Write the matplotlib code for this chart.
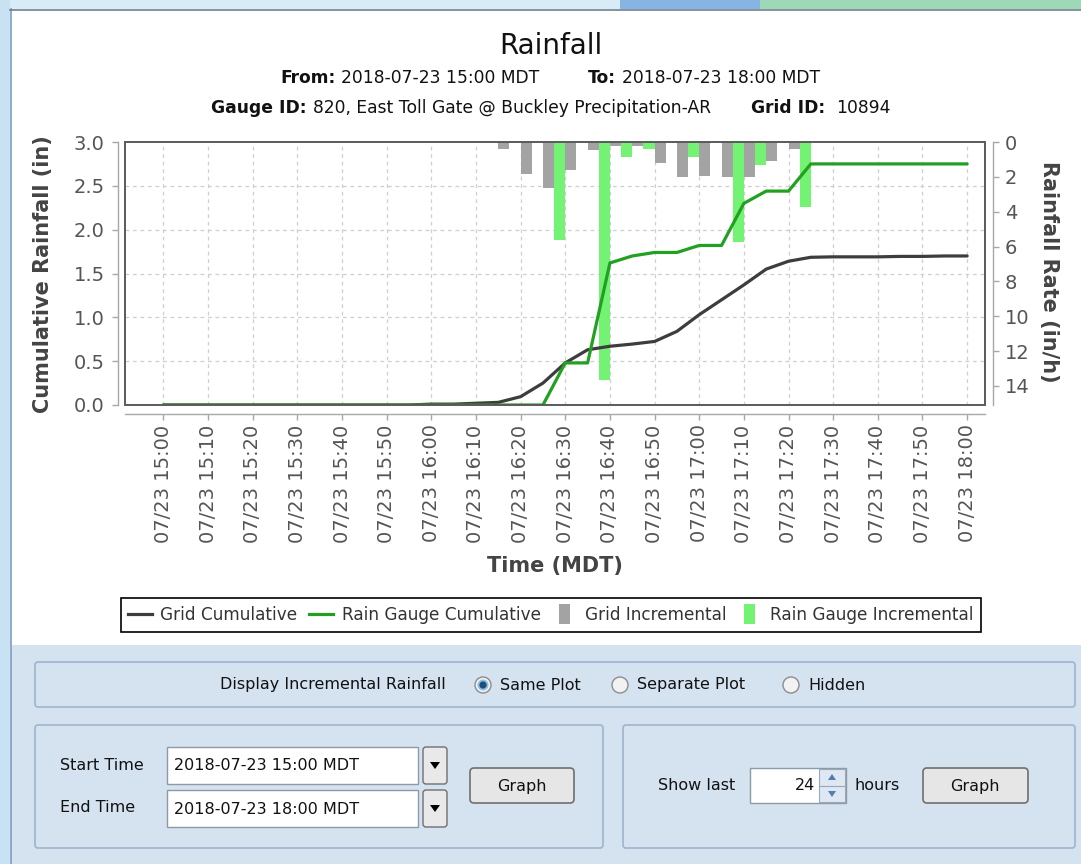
import matplotlib
matplotlib.use("Agg")
import matplotlib.pyplot as plt
import matplotlib.dates as mdates
from matplotlib.patches import Rectangle, FancyBboxPatch, Circle, Polygon
from matplotlib.lines import Line2D
from matplotlib.legend_handler import HandlerPatch
from matplotlib.ticker import FormatStrFormatter
import pandas as pd

# ---------------- data ----------------
chart_title = "Rainfall"
from_text = "2018-07-23 15:00 MDT"
to_text = "2018-07-23 18:00 MDT"
gauge_text = "820, East Toll Gate @ Buckley Precipitation-AR"
grid_id_text = "10894"

cum_times = pd.date_range("2018-07-23 15:00", "2018-07-23 18:00", freq="5min")
grid_cumulative = [0, 0, 0, 0, 0, 0, 0, 0, 0, 0, 0, 0,
                   0.01, 0.01, 0.02, 0.03, 0.095, 0.25, 0.48, 0.63, 0.67, 0.695,
                   0.725, 0.84, 1.03, 1.20, 1.37, 1.55, 1.64, 1.685, 1.69, 1.69,
                   1.69, 1.695, 1.695, 1.70, 1.70]
gauge_cumulative = [0, 0, 0, 0, 0, 0, 0, 0, 0, 0, 0, 0, 0, 0, 0, 0, 0, 0,
                    0.48, 0.48, 1.62, 1.70, 1.74, 1.74, 1.82, 1.82, 2.30, 2.44,
                    2.44, 2.75, 2.75, 2.75, 2.75, 2.75, 2.75, 2.75, 2.75]

grid_inc_times = ["16:15", "16:20", "16:25", "16:30", "16:35", "16:40", "16:45",
                  "16:50", "16:55", "17:00", "17:05", "17:10", "17:15", "17:20"]
grid_incremental = [0.40, 1.84, 2.65, 1.61, 0.46, 0.23, 0.23,
                    1.23, 2.03, 1.98, 2.03, 2.03, 1.11, 0.40]
gauge_inc_times = ["16:25", "16:35", "16:40", "16:45", "16:55", "17:05", "17:10", "17:20"]
gauge_incremental = [5.60, 13.65, 0.86, 0.40, 0.85, 5.72, 1.32, 3.73]

tick_times = pd.date_range("2018-07-23 15:00", "2018-07-23 18:00", freq="10min")
tick_labels = ["07/23 15:00", "07/23 15:10", "07/23 15:20", "07/23 15:30",
               "07/23 15:40", "07/23 15:50", "07/23 16:00", "07/23 16:10",
               "07/23 16:20", "07/23 16:30", "07/23 16:40", "07/23 16:50",
               "07/23 17:00", "07/23 17:10", "07/23 17:20", "07/23 17:30",
               "07/23 17:40", "07/23 17:50", "07/23 18:00"]
left_ticks = [0.0, 0.5, 1.0, 1.5, 2.0, 2.5, 3.0]
right_ticks = [0, 2, 4, 6, 8, 10, 12, 14]
legend_labels = ["Grid Cumulative", "Rain Gauge Cumulative",
                 "Grid Incremental", "Rain Gauge Incremental"]

# ---------------- figure ----------------
W, H = 1081, 864
fig = plt.figure(figsize=(W / 100, H / 100), dpi=100)
fig.patch.set_facecolor("white")

bg = fig.add_axes([0, 0, 1, 1])
bg.set_xlim(0, W)
bg.set_ylim(H, 0)
bg.axis("off")
bg.set_zorder(-5)


def px_rect(x0, y0, x1, y1):
    return [x0 / W, 1 - y1 / H, (x1 - x0) / W, (y1 - y0) / H]


# window chrome
bg.add_patch(Rectangle((0, 0), W, 9, fc="#d8ecf7", ec="none"))
bg.add_patch(Rectangle((620, 0), 140, 9, fc="#86b5e3", ec="none"))
bg.add_patch(Rectangle((760, 0), 330, 9, fc="#9fd8b6", ec="none"))
bg.add_patch(Rectangle((0, 0), 10, H, fc="#c8e1f3", ec="none"))
bg.add_line(Line2D([10.5, 10.5], [9, H], color="#7d9cc0", lw=1.2))
bg.add_line(Line2D([10, W], [9.5, 9.5], color="#6f7f90", lw=1.2))
bg.add_patch(Rectangle((11, 10), W, 635, fc="white", ec="none"))
# lower control panel
bg.add_patch(Rectangle((11, 645), W, H - 645, fc="#d5e2f0", ec="none"))

# ---------------- chart ----------------
MIN = 1.0 / 1440.0
cx = mdates.date2num(cum_times.to_pydatetime())
tx = mdates.date2num(tick_times.to_pydatetime())
gx = [mdates.date2num(pd.Timestamp("2018-07-23 " + s).to_pydatetime()) for s in grid_inc_times]
ux = [mdates.date2num(pd.Timestamp("2018-07-23 " + s).to_pydatetime()) for s in gauge_inc_times]

axL = fig.add_axes(px_rect(125, 142, 985, 405))
axR = axL.twinx()
axL.set_zorder(3)
axL.patch.set_visible(False)
axR.set_zorder(2)

grid_kw = dict(colors="#cfcfcf", linestyles=(0, (3, 3)), lw=0.9, zorder=0)
axR.vlines(tx, 0, 1, transform=axR.get_xaxis_transform(), **grid_kw)
axR.hlines(left_ticks[1:-1], 0, 1, transform=axL.get_yaxis_transform(), **grid_kw)

axR.bar(gx, grid_incremental, width=2.5 * MIN, align="edge",
        color="#a3a3a3", lw=0, zorder=2)
axR.bar([x + 2.5 * MIN for x in ux], gauge_incremental, width=2.5 * MIN,
        align="edge", color="#74f274", lw=0, zorder=3)

axL.plot(cx, grid_cumulative, color="#3d3d3d", lw=2.3,
         solid_joinstyle="round", solid_capstyle="round", zorder=3)
axL.plot(cx, gauge_cumulative, color="#22a022", lw=2.3,
         solid_joinstyle="round", solid_capstyle="round", zorder=4)

axL.set_xlim(cx[0] - 8.6 * MIN, cx[-1] + 4.0 * MIN)
axL.set_ylim(0, 3.0)
axR.set_ylim(15.1, 0)

axL.set_xticks(tx)
axL.set_xticklabels(tick_labels)
axL.set_yticks(left_ticks)
axL.yaxis.set_major_formatter(FormatStrFormatter("%.1f"))
axR.set_yticks(right_ticks)

spine_c = "#a8a8a8"
for s in ["top", "right"]:
    axL.spines[s].set_visible(False)
for s in ["top", "left", "bottom"]:
    axR.spines[s].set_visible(False)
axL.spines["left"].set_position(("outward", 5))
axL.spines["bottom"].set_position(("outward", 6.5))
axR.spines["right"].set_position(("outward", 5.8))
for sp in [axL.spines["left"], axL.spines["bottom"], axR.spines["right"]]:
    sp.set_color(spine_c)
    sp.set_linewidth(1.0)

axL.tick_params(axis="y", direction="out", length=4, width=1, color=spine_c,
                labelcolor="#555555", labelsize=14, pad=5.5)
axL.tick_params(axis="x", direction="out", length=4, width=1, color=spine_c,
                labelcolor="#555555", labelsize=14, pad=3.5, labelrotation=90)
axR.tick_params(axis="y", direction="out", length=4, width=1, color=spine_c,
                labelcolor="#555555", labelsize=14, pad=4.5)

axL.add_patch(Rectangle((0, 0), 1, 1, transform=axL.transAxes, fill=False,
                        ec="#5a5a5a", lw=1.4, clip_on=False, zorder=10))

lab_kw = dict(fontsize=15, fontweight="bold", color="#444444", ha="center", va="center")
bg.text(43, 274, "Cumulative Rainfall (in)", rotation=90, **lab_kw)
bg.text(1049, 272, "Rainfall Rate (in/h)", rotation=270, **lab_kw)
bg.text(555, 566, "Time (MDT)", **lab_kw)

# ---------------- titles ----------------
bg.text(551, 46, chart_title, fontsize=20, color="#111111", ha="center", va="center")

renderer = fig.canvas.get_renderer()


def rich_line(xc, y, segs, size):
    items = []
    total = 0
    for txt, weight, gap in segs:
        t = bg.text(0, y, txt, fontsize=size, fontweight=weight, color="#111111",
                    ha="left", va="center")
        w = t.get_window_extent(renderer).width
        items.append((t, w, gap))
        total += w + gap
    x = xc - total / 2
    for t, w, gap in items:
        t.set_x(x)
        x += w + gap


rich_line(550, 78, [("From:", "bold", 6), (from_text, "normal", 48),
                    ("To:", "bold", 6), (to_text, "normal", 0)], 12.3)
rich_line(551, 108, [("Gauge ID:", "bold", 6), (gauge_text, "normal", 40),
                     ("Grid ID:", "bold", 11), (grid_id_text, "normal", 0)], 12.3)

# ---------------- legend ----------------


class NarrowRect(HandlerPatch):
    def create_artists(self, legend, orig_handle, xdescent, ydescent, width,
                       height, fontsize, trans):
        w, h = 7.9, 14.0
        p = Rectangle((-xdescent + width / 2 - w / 2, -ydescent + height / 2 - h / 2), w, h,
                      fc=orig_handle.get_facecolor(), ec="none", transform=trans)
        return [p]


handles = [Line2D([], [], color="#3d3d3d", lw=2.3),
           Line2D([], [], color="#22a022", lw=2.3),
           Rectangle((0, 0), 1, 1, fc="#a3a3a3"),
           Rectangle((0, 0), 1, 1, fc="#74f274")]
leg = fig.legend(handles, legend_labels, loc="center", ncol=4,
                 bbox_to_anchor=(551 / W, 1 - 615 / H), fontsize=12.2,
                 frameon=True, fancybox=False, framealpha=1, edgecolor="black",
                 handlelength=1.4, handletextpad=0.5, columnspacing=0.7,
                 borderpad=0.45, labelcolor="#333333",
                 handler_map={Rectangle: NarrowRect()})
leg.get_frame().set_linewidth(1.2)

# ---------------- control panel ----------------
UI = 11.5
box_kw = dict(boxstyle="round,pad=0,rounding_size=3", fc="none", ec="#9fb4cf", lw=1.2)
bg.add_patch(FancyBboxPatch((35, 662), 1040, 45, **box_kw))
bg.add_patch(FancyBboxPatch((35, 725), 568, 123, **box_kw))
bg.add_patch(FancyBboxPatch((623, 725), 452, 123, **box_kw))

bg.text(220, 685, "Display Incremental Rainfall", fontsize=UI, ha="left", va="center", color="#111111")
for cxr, lab, sel in [(483, "Same Plot", True), (620, "Separate Plot", False), (791, "Hidden", False)]:
    bg.add_patch(Circle((cxr, 685), 8, fc="#f2f2f2", ec="#8c8c8c", lw=1))
    if sel:
        bg.add_patch(Circle((cxr, 685), 5.5, fc="#8dbde6", ec="none"))
        bg.add_patch(Circle((cxr, 685), 3.6, fc="#1e4f7c", ec="none"))
    bg.text(cxr + 17, 685, lab, fontsize=UI, ha="left", va="center", color="#111111")

bg.text(60, 766, "Start Time", fontsize=UI, ha="left", va="center", color="#111111")
bg.text(60, 808, "End Time", fontsize=UI, ha="left", va="center", color="#111111")
for y0, txt in [(747, from_text), (790, to_text)]:
    bg.add_patch(Rectangle((167, y0), 251, 37, fc="white", ec="#8e9aa6", lw=1))
    bg.text(174, y0 + 19, txt, fontsize=UI, ha="left", va="center", color="#111111")
    bg.add_patch(FancyBboxPatch((423, y0), 24, 37, boxstyle="round,pad=0,rounding_size=3",
                                fc="#e9e9e9", ec="#6f6f6f", lw=1))
    bg.add_patch(Polygon([(430, y0 + 15), (440, y0 + 15), (435, y0 + 22)], closed=True,
                         fc="black", ec="none"))

btn_kw = dict(boxstyle="round,pad=0,rounding_size=4", fc="#e6e6e6", ec="#6f6f6f", lw=1.2)
bg.add_patch(FancyBboxPatch((470, 768), 104, 35, **btn_kw))
bg.text(522, 786, "Graph", fontsize=UI, ha="center", va="center", color="#111111")
bg.add_patch(FancyBboxPatch((923, 768), 105, 35, **btn_kw))
bg.text(975, 786, "Graph", fontsize=UI, ha="center", va="center", color="#111111")

bg.text(658, 786, "Show last", fontsize=UI, ha="left", va="center", color="#111111")
bg.add_patch(Rectangle((750, 768), 96, 35, fc="white", ec="#8e9aa6", lw=1))
bg.text(815, 786, "24", fontsize=UI, ha="right", va="center", color="#111111")
bg.add_patch(Rectangle((819, 769), 26, 16.5, fc="#dfe8f2", ec="#9aa9ba", lw=0.8))
bg.add_patch(Rectangle((819, 785.5), 26, 16.5, fc="#dfe8f2", ec="#9aa9ba", lw=0.8))
bg.add_patch(Polygon([(828, 780), (836, 780), (832, 774)], closed=True, fc="#4f7fb8", ec="none"))
bg.add_patch(Polygon([(828, 791), (836, 791), (832, 797)], closed=True, fc="#4f7fb8", ec="none"))
bg.text(855, 786, "hours", fontsize=UI, ha="left", va="center", color="#111111")

fig.savefig("out.png", dpi=100)
